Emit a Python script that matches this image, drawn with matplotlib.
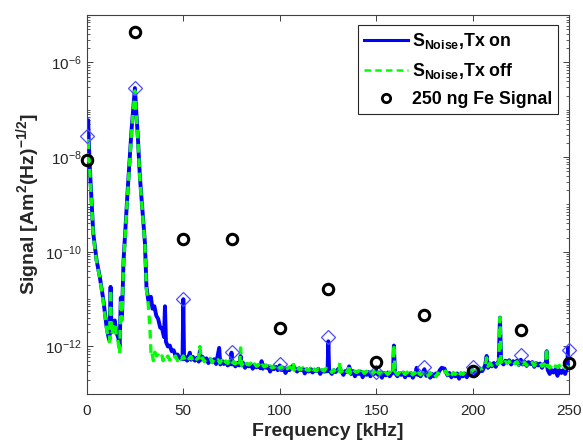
import numpy as np
import matplotlib
matplotlib.use("Agg")
import matplotlib.pyplot as plt
from matplotlib.ticker import LogLocator, NullFormatter, FixedLocator

plt.rcParams['font.family'] = ['Liberation Sans', 'DejaVu Sans']
plt.rcParams['mathtext.fontset'] = 'custom'
plt.rcParams['mathtext.rm'] = 'Liberation Sans:bold'
plt.rcParams['mathtext.bf'] = 'Liberation Sans:bold'
plt.rcParams['mathtext.it'] = 'Liberation Sans:bold'
plt.rcParams['mathtext.default'] = 'bf'

# ---- data (frequency in kHz, value as log10 of signal) ----
tx_on_points = [
    (0.0, -8.05), (0.35, -7.6), (0.7, -7.22), (1.0, -7.7), (1.6, -8.27), (2.4, -8.9), (3.3, -9.6),
    (5.0, -10.17), (6.7, -10.53), (8.5, -11.0), (10.2, -11.58), (11.2, -11.8), (11.7, -11.86),
    (12.3, -10.74), (12.8, -11.7), (13.5, -11.55), (14.5, -11.45), (15.2, -11.7), (16.2, -11.8),
    (17.0, -12.0), (17.6, -10.97), (18.2, -11.4), (19.0, -10.2), (21.0, -8.8), (23.2, -7.4),
    (24.9, -6.54), (26.6, -7.7), (27.5, -8.42), (30.1, -9.81), (30.9, -10.74), (31.8, -11.01),
    (32.5, -11.1), (33.2, -10.95), (34.0, -11.2), (35.0, -11.15), (36.0, -11.35), (37.0, -11.42),
    (38.0, -11.6), (39.0, -11.62), (40.0, -11.8), (40.5, -11.15), (41.0, -11.9), (42.0, -12.0),
    (43.0, -11.98), (44.0, -12.1), (45.0, -12.08), (46.0, -12.2), (47.0, -12.17), (48.0, -12.24),
    (49.6, -12.27), (50.0, -11.0), (50.4, -12.27), (51, -12.22), (52, -12.3), (53.4, -12.13),
    (54, -12.28), (55, -12.22), (56, -12.3), (57, -12.24), (58, -12.32), (58.6, -12.1),
    (59.2, -12.28), (60, -12.22), (61, -12.3), (62, -12.25), (63, -12.35), (64, -12.28),
    (65, -12.33), (66, -12.27), (67, -12.37), (68.6, -12.03), (69.2, -12.38), (70, -12.3),
    (71, -12.37), (72, -12.32), (73, -12.4), (74.6, -12.36), (75, -12.13), (75.4, -12.38),
    (76, -12.33), (77, -12.42), (78, -12.35), (79, -12.4), (79.7, -12.2), (80.3, -12.4),
    (81, -12.35), (82, -12.45), (83, -12.37), (84, -12.42), (85, -12.38), (86, -12.47),
    (87, -12.39), (88, -12.44), (89, -12.4), (90, -12.46), (90.6, -12.31), (91.2, -12.47),
    (92, -12.4), (93, -12.45), (94, -12.42), (95, -12.53), (96, -12.44), (97, -12.48),
    (98, -12.43), (99, -12.5), (100, -12.4), (101, -12.5), (102, -12.45), (103, -12.56),
    (104, -12.47), (105, -12.5), (106, -12.44), (107, -12.4), (108, -12.47), (109, -12.53),
    (110, -12.46), (111, -12.5), (112, -12.47), (113, -12.57), (114, -12.48), (115, -12.53),
    (116, -12.47), (117, -12.55), (118, -12.49), (119, -12.52), (120, -12.47), (121, -12.58),
    (122, -12.5), (123, -12.53), (124.8, -12.52), (125.2, -11.89), (125.6, -12.5),
    (126, -12.52), (127, -12.58), (128, -12.5), (129, -12.54), (130, -12.49), (131, -12.45),
    (132, -12.52), (133, -12.6), (134, -12.52), (135, -12.54), (136, -12.42), (137, -12.58),
    (138, -12.52), (139, -12.63), (140, -12.54), (141, -12.58), (142, -12.53), (143, -12.65),
    (144, -12.55), (145, -12.6), (146, -12.54), (147, -12.63), (148, -12.55), (149, -12.58),
    (150, -12.5), (151, -12.6), (152, -12.55), (153, -12.66), (154, -12.56), (155, -12.61),
    (156, -12.55), (157, -12.63), (158, -12.57), (158.7, -12.55), (159.2, -11.98),
    (159.7, -12.5), (160, -12.57), (161, -12.63), (162, -12.56), (163, -12.6), (164, -12.55),
    (165, -12.65), (166, -12.57), (167, -12.61), (168, -12.56), (169, -12.66), (170, -12.58),
    (170.5, -12.55), (171, -12.45), (171.5, -12.6), (172, -12.56), (173, -12.63), (174, -12.57),
    (175, -12.48), (176, -12.62), (177, -12.57), (178, -12.66), (179, -12.58), (180, -12.63),
    (181, -12.57), (182, -12.58), (183, -12.5), (184, -12.45), (185.5, -12.47), (186, -12.53),
    (187, -12.61), (188, -12.56), (189, -12.65), (190, -12.58), (191, -12.63), (192, -12.57),
    (193, -12.68), (194, -12.58), (195, -12.63), (196, -12.57), (197, -12.65), (198, -12.56),
    (199, -12.58), (200, -12.5), (201, -12.63), (202, -12.54), (203, -12.56), (204, -12.5),
    (205, -12.52), (206.5, -12.4), (207.3, -12.2), (208, -12.45), (209, -12.36), (210, -12.42),
    (211, -12.35), (212, -12.43), (213.6, -12.3), (214.2, -11.39), (214.8, -12.3),
    (215, -12.33), (216, -12.38), (217, -12.3), (218, -12.34), (219, -12.29), (220, -12.38),
    (221, -12.31), (222, -12.35), (223, -12.3), (224, -12.39), (225, -12.28), (226, -12.38),
    (227, -12.32), (228, -12.41), (229, -12.33), (230, -12.37), (231, -12.33), (232, -12.43),
    (233, -12.35), (234, -12.4), (235, -12.36), (236, -12.45), (237, -12.37), (238, -12.35),
    (238.4, -12.1), (238.8, -12.45), (239, -12.5), (240, -12.58), (241, -12.5), (242, -12.55),
    (243, -12.48), (244, -12.62), (245, -12.5), (246, -12.56), (247, -12.5), (248, -12.58),
    (249, -12.45), (249.5, -12.03), (250, -12.3),
]

tx_off_points = [
    (0.0, -8.1), (0.35, -7.7), (0.7, -7.57), (1.0, -7.9), (1.6, -8.35), (2.4, -8.95), (3.3, -9.65),
    (5.0, -10.2), (6.7, -10.55), (8.5, -11.05), (10.2, -11.62), (11.2, -11.85), (11.7, -11.9),
    (12.3, -10.8), (12.8, -11.75), (13.5, -11.65), (14.5, -11.5), (15.2, -11.75), (16.2, -11.9),
    (17.0, -12.15), (17.6, -11.0), (18.2, -11.45), (19.0, -10.25), (21.0, -8.85), (23.2, -7.45),
    (24.9, -6.6), (26.6, -7.75), (27.5, -8.45), (30.1, -9.85), (30.9, -10.8), (31.8, -11.1),
    (32.7, -11.6), (33.3, -12.2), (33.8, -12.15), (34.5, -12.3), (35.2, -12.12), (36.0, -12.2),
    (37.0, -12.18), (38.0, -12.26), (39.0, -12.2), (39.5, -12.3), (40, -12.22), (41, -12.27),
    (42, -12.2), (43, -12.29), (44, -12.21), (45, -12.25), (46, -12.2), (47, -12.3), (48, -12.22),
    (49, -12.27), (50, -12.2), (51, -12.29), (52, -12.22), (53, -12.26), (54, -12.21),
    (55, -12.3), (56, -12.23), (57, -12.27), (58, -12.24), (58.6, -12.0), (59.2, -12.28),
    (60, -12.24), (61, -12.32), (62, -12.26), (63, -12.29), (64, -12.25), (65, -12.34),
    (66, -12.27), (67, -12.32), (68, -12.28), (69, -12.35), (70, -12.29), (71, -12.38),
    (72, -12.31), (73, -12.36), (74, -12.3), (75, -12.39), (76, -12.32), (77, -12.37),
    (78, -12.32), (79.2, -12.4), (79.7, -12.03), (80.2, -12.4), (81, -12.34), (82, -12.42),
    (83, -12.36), (84, -12.39), (85, -12.35), (86, -12.44), (87, -12.37), (88, -12.42),
    (89, -12.38), (90, -12.46), (91, -12.39), (92, -12.43), (93, -12.39), (94, -12.48),
    (95, -12.41), (96, -12.45), (97, -12.41), (98, -12.49), (99, -12.42), (100, -12.46),
    (101, -12.42), (102, -12.5), (103, -12.43), (104, -12.47), (105, -12.43), (106.5, -12.47),
    (107, -12.34), (107.5, -12.5), (108, -12.45), (109, -12.52), (110, -12.45), (111, -12.49),
    (112, -12.45), (113, -12.54), (114, -12.47), (115, -12.51), (116, -12.46), (117, -12.55),
    (118, -12.48), (119, -12.52), (120, -12.47), (121, -12.55), (122, -12.49), (123, -12.52),
    (124, -12.46), (125, -12.5), (126, -12.47), (127, -12.55), (128, -12.49), (129, -12.54),
    (130, -12.48), (130.7, -12.52), (131.2, -12.34), (131.7, -12.54), (132, -12.5),
    (133, -12.57), (134, -12.5), (135.4, -12.55), (135.9, -12.38), (136.4, -12.57),
    (137, -12.51), (138, -12.58), (139, -12.52), (140, -12.55), (141, -12.51), (142, -12.6),
    (143, -12.53), (144, -12.57), (145, -12.52), (146, -12.6), (147, -12.53), (148, -12.58),
    (149, -12.53), (150, -12.62), (151, -12.54), (152, -12.59), (153, -12.54), (154, -12.62),
    (155, -12.55), (156, -12.59), (157, -12.54), (158.6, -12.6), (159.2, -11.96),
    (159.8, -12.58), (160, -12.54), (161, -12.6), (162, -12.55), (163, -12.62), (164, -12.55),
    (165, -12.59), (166, -12.54), (167, -12.62), (168, -12.55), (169, -12.6), (170, -12.55),
    (171, -12.64), (172, -12.56), (173, -12.6), (174, -12.55), (175, -12.57), (176, -12.53),
    (177, -12.62), (178, -12.55), (179, -12.6), (180, -12.55), (181, -12.64), (182, -12.56),
    (183, -12.59), (184, -12.53), (185, -12.54), (186, -12.52), (187, -12.6), (188, -12.54),
    (189, -12.62), (190, -12.55), (191, -12.59), (192, -12.54), (193, -12.62), (194, -12.55),
    (195, -12.59), (196, -12.54), (197, -12.6), (198, -12.53), (199, -12.55), (200, -12.5),
    (201, -12.57), (202, -12.5), (203, -12.52), (204, -12.46), (205, -12.47), (206.5, -12.44),
    (207.3, -12.24), (208, -12.42), (209, -12.35), (210, -12.4), (211, -12.34), (212, -12.39),
    (213.6, -12.34), (214.2, -11.39), (214.8, -12.34), (215, -12.32), (216, -12.38),
    (217, -12.32), (218, -12.35), (219, -12.31), (220, -12.38), (221, -12.32), (222, -12.36),
    (223, -12.32), (224, -12.39), (225, -12.33), (226, -12.37), (227, -12.33), (228, -12.4),
    (229, -12.34), (230, -12.38), (231, -12.34), (232, -12.41), (233, -12.35), (234, -12.39),
    (235, -12.35), (236, -12.42), (237, -12.37), (237.9, -12.4), (238.4, -12.03),
    (238.9, -12.42), (239, -12.4), (240, -12.45), (241, -12.4), (242, -12.47), (243, -12.41),
    (244, -12.44), (245, -12.4), (246, -12.48), (247, -12.42), (248, -12.46), (249, -12.42),
    (250, -12.47),
]

harmonic_freq = [0, 25, 50, 75, 100, 125, 150, 175, 200, 225, 250]
harmonic_noise_log = [-7.55, -6.54, -10.99, -12.11, -12.37, -11.81, -12.53, -12.43, -12.43, -12.19, -12.07]
fe_signal_log = [-8.06, -5.36, -9.73, -9.73, -11.60, -10.78, -12.32, -11.33, -12.51, -11.65, -12.34]

x_ticks = [0, 50, 100, 150, 200, 250]
y_ticks = [1e-12, 1e-10, 1e-8, 1e-6]

# ---- figure ----
fig = plt.figure(figsize=(5.83, 4.46), dpi=100)
ax = fig.add_axes([0.149, 0.117, 0.827, 0.849])

on_f, on_v = zip(*tx_on_points)
off_f, off_v = zip(*tx_off_points)

ax.plot(on_f, 10 ** np.array(on_v), color='#0000ff', lw=2.8, label=r'S$_{Noise}$,Tx on', zorder=2)
ax.plot(off_f, 10 ** np.array(off_v), color='#00ff00', lw=2.4, ls=(0, (2.6, 1.7)),
        label=r'S$_{Noise}$,Tx off', zorder=3)
ax.plot(harmonic_freq, 10 ** np.array(harmonic_noise_log), ls='none', marker='D', ms=7,
        mfc='none', mec='#4d4dff', mew=0.9, zorder=4, clip_on=False)
ax.plot(harmonic_freq, 10 ** np.array(fe_signal_log), ls='none', marker='o', ms=7.5,
        mfc='none', mec='black', mew=2.2, label='250 ng Fe Signal', zorder=5, clip_on=False)

ax.set_yscale('log')
ax.set_xlim(0, 250)
ax.set_ylim(1e-13, 1e-5)
ax.set_xticks(x_ticks)
ax.yaxis.set_major_locator(FixedLocator(y_ticks))
ax.yaxis.set_minor_locator(LogLocator(base=10, subs=np.arange(1, 10), numticks=30))
ax.yaxis.set_minor_formatter(NullFormatter())

ax.tick_params(axis='both', which='both', direction='in', top=True, right=True,
               colors='#404040', labelcolor='#262626', labelsize=11)
ax.tick_params(axis='both', which='major', length=4, width=0.7)
ax.tick_params(axis='both', which='minor', length=2, width=0.6)
ax.tick_params(axis='x', pad=7)
for s in ax.spines.values():
    s.set_color('#404040')
    s.set_linewidth(0.8)

ax.set_xlabel('Frequency [kHz]', fontsize=14, fontweight='bold', color='#262626', labelpad=4)
ax.set_ylabel(r'Signal [Am$^{2}$(Hz)$^{-1/2}$]', fontsize=14, fontweight='bold',
              color='#262626', labelpad=2)

leg = ax.legend(loc='upper right', bbox_to_anchor=(558 / 583, 1 - 25 / 446),
                bbox_transform=fig.transFigure, borderaxespad=0, fancybox=False,
                edgecolor='#262626', framealpha=1, prop={'weight': 'bold', 'size': 12.8},
                handlelength=2.45, handletextpad=0.2, labelspacing=0.55, borderpad=0.35)
leg.get_frame().set_linewidth(0.8)
leg_lines = leg.get_lines()
leg_lines[0].set_linewidth(2.2)
leg_lines[1].set_linewidth(1.8)
leg_lines[2].set_markersize(6)
leg_lines[2].set_markeredgewidth(2.0)

fig.savefig('out.png', dpi=100)
